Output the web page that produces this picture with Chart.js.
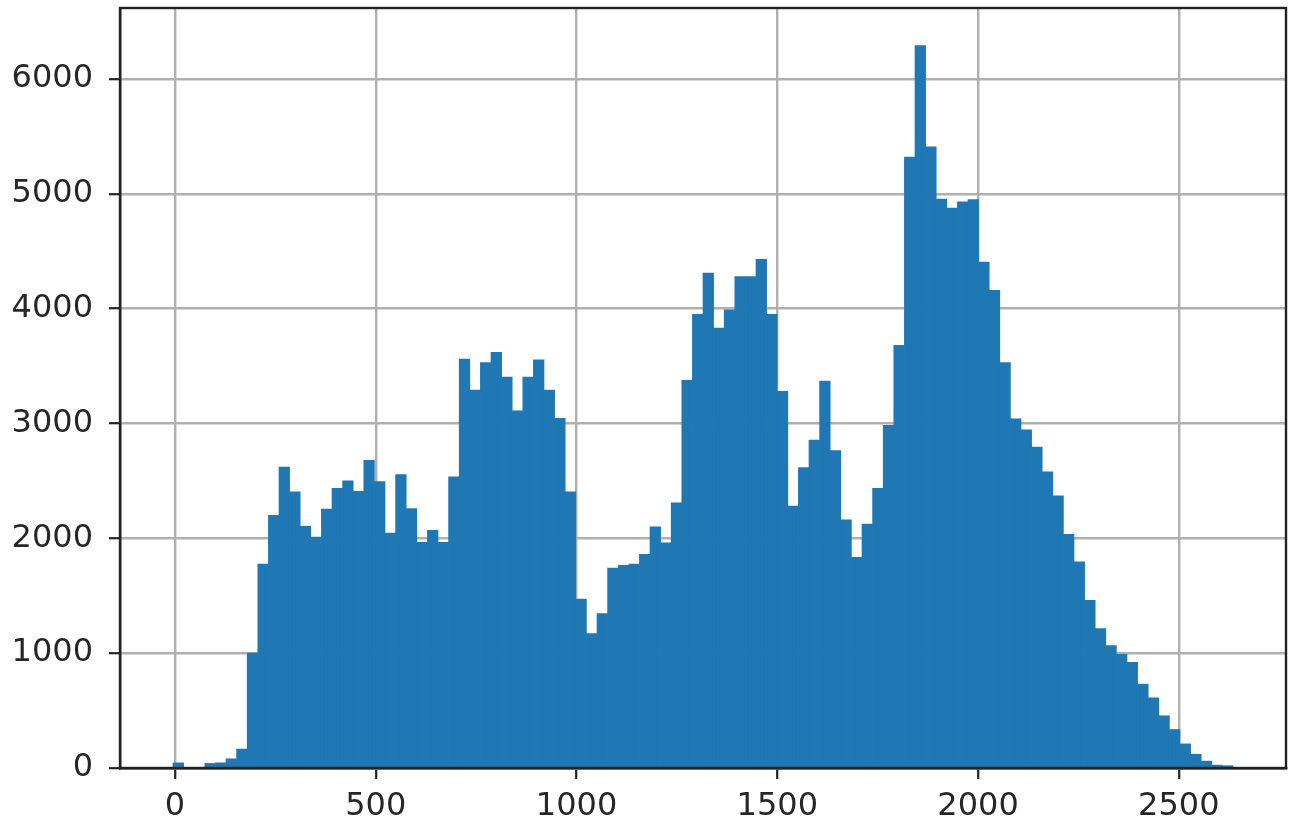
<!DOCTYPE html>
<html>
<head>
<meta charset="utf-8">
<title>Histogram</title>
<script src="https://cdn.jsdelivr.net/npm/chart.js@4.4.1/dist/chart.umd.min.js"></script>
<style>
  html, body { margin: 0; padding: 0; background: #fff; }
  #hist { display: block; }
</style>
</head>
<body>
<canvas id="hist" width="1299" height="829"></canvas>
<script>
// histogram bins: 100 equal-width bins
const binStart = -5;
const binWidth = 26.4;
const counts = [
  45, 0, 0, 40, 45, 80, 165, 1000, 1775, 2200,
  2620, 2405, 2105, 2010, 2255, 2435, 2500, 2410, 2680, 2495,
  2045, 2555, 2260, 1965, 2070, 1965, 2535, 3560, 3290, 3530,
  3620, 3405, 3110, 3405, 3555, 3290, 3045, 2405, 1470, 1170,
  1345, 1740, 1765, 1775, 1860, 2100, 1960, 2310, 3375, 3950,
  4310, 3830, 3990, 4280, 4280, 4430, 3950, 3280, 2280, 2615,
  2855, 3370, 2765, 2160, 1835, 2125, 2435, 2985, 3680, 5320,
  6290, 5410, 4955, 4875, 4930, 4950, 4405, 4160, 3530, 3040,
  2945, 2795, 2580, 2370, 2035, 1795, 1460, 1215, 1065, 990,
  920, 730, 610, 455, 335, 210, 120, 60, 25, 20
];
const xTicks = [0, 500, 1000, 1500, 2000, 2500];
const yTicks = [0, 1000, 2000, 3000, 4000, 5000, 6000];

const points = counts.map((c, i) => ({ x: binStart + binWidth * (i + 0.5), y: c }));

// matplotlib-style axis box around the plot area
const frame = {
  id: 'frame',
  afterDraw(chart) {
    const { ctx, chartArea: a } = chart;
    ctx.save();
    ctx.strokeStyle = '#222';
    ctx.lineWidth = 2.4;
    ctx.strokeRect(a.left, a.top, a.right - a.left, a.bottom - a.top);
    ctx.restore();
  }
};

const tickFont = { family: 'DejaVu Sans', size: 32 };
const plain = v => String(v);

new Chart(document.getElementById('hist'), {
  type: 'bar',
  data: {
    datasets: [{
      data: points,
      backgroundColor: '#1f77b4',
      borderWidth: 0,
      barPercentage: 1.0,
      categoryPercentage: 1.0
    }]
  },
  options: {
    responsive: false,
    animation: false,
    devicePixelRatio: 1,
    layout: { padding: { top: 8, right: 13, left: 0, bottom: 0 } },
    plugins: {
      legend: { display: false },
      tooltip: { enabled: false }
    },
    scales: {
      x: {
        type: 'linear',
        min: -137,
        max: 2767,
        offset: false,
        z: 1,
        afterBuildTicks: s => { s.ticks = xTicks.map(v => ({ value: v })); },
        afterFit: s => { s.height = 61; s.paddingLeft = 0; s.paddingRight = 0; },
        ticks: {
          font: tickFont,
          color: '#262626',
          padding: 8,
          maxRotation: 0,
          autoSkip: false,
          callback: plain
        },
        grid: {
          offset: false,
          color: '#b0b0b0',
          lineWidth: 2.4,
          tickLength: 11,
          tickColor: '#222',
          tickWidth: 2.2
        },
        border: { color: '#222', width: 2.4 }
      },
      y: {
        min: 0,
        max: 6618,
        z: 1,
        afterBuildTicks: s => { s.ticks = yTicks.map(v => ({ value: v })); },
        afterFit: s => { s.width = 120; s.paddingTop = 0; s.paddingBottom = 0; },
        ticks: {
          font: tickFont,
          color: '#262626',
          padding: 16,
          autoSkip: false,
          callback: plain
        },
        grid: {
          color: '#b0b0b0',
          lineWidth: 2.4,
          tickLength: 11,
          tickColor: '#222',
          tickWidth: 2.2
        },
        border: { color: '#222', width: 2.4 }
      }
    }
  },
  plugins: [frame]
});
</script>
</body>
</html>
